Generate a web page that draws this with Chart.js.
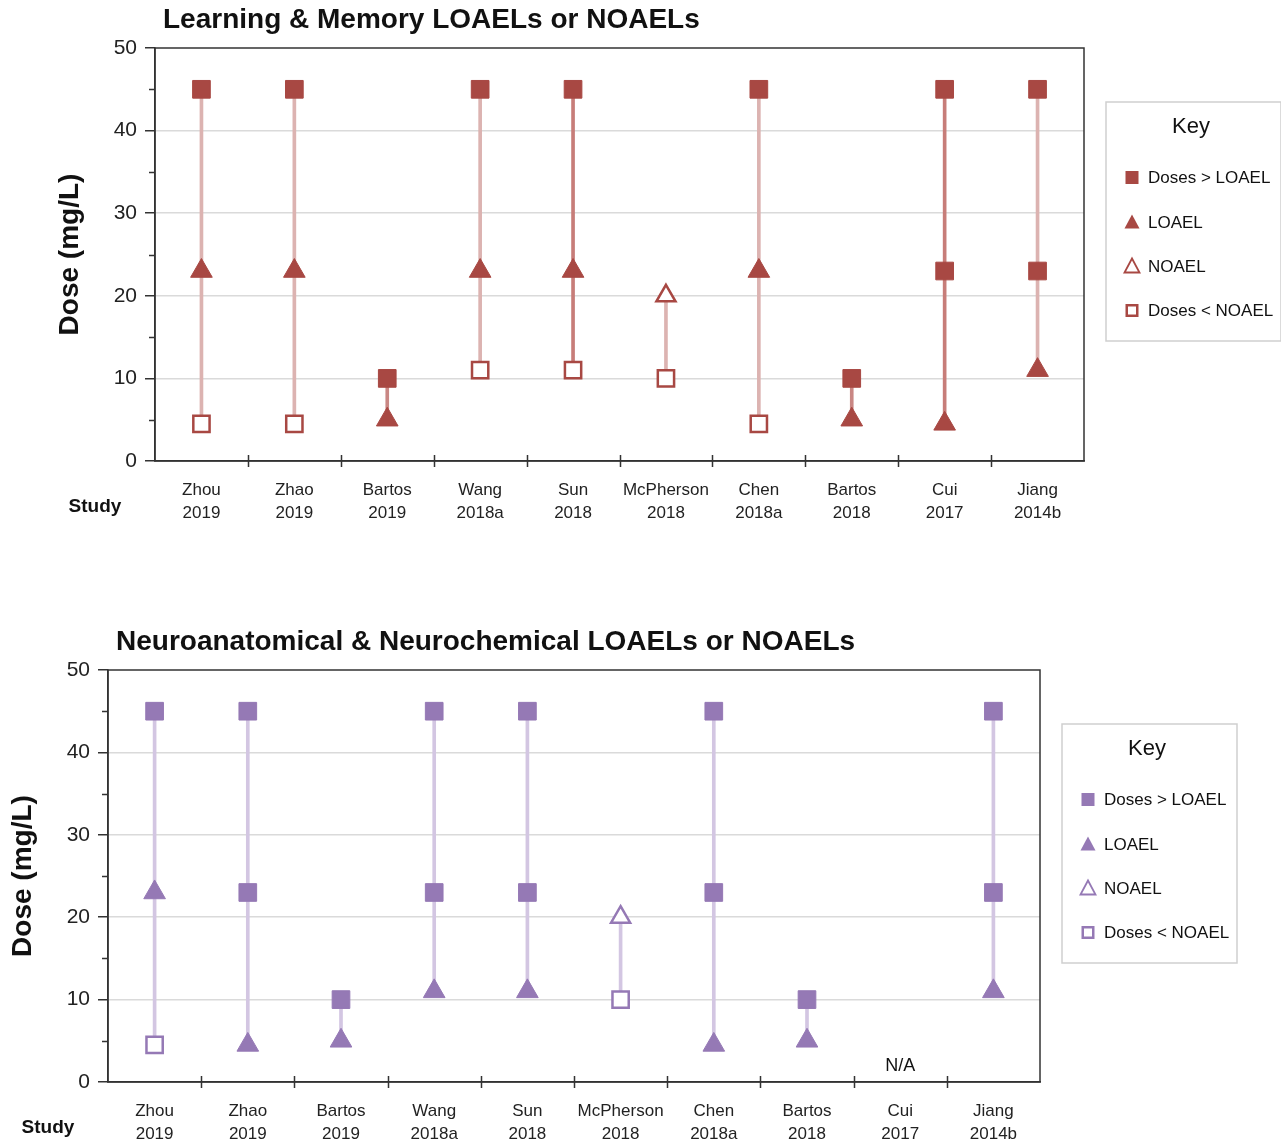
<!DOCTYPE html>
<html>
<head>
<meta charset="utf-8">
<script src="https://cdn.jsdelivr.net/npm/chart.js@4.4.1/dist/chart.umd.min.js"></script>
<style>
  html, body { margin: 0; padding: 0; background: #fff; }
  #wrap { position: relative; width: 1281px; height: 1147px; }
  .box { position: absolute; left: 0; width: 1281px; }
</style>
</head>
<body>
<div id="wrap">
  <div class="box" style="top:0;height:580px"><canvas id="chartLearning"></canvas></div>
  <div class="box" style="top:600px;height:547px"><canvas id="chartNeuro"></canvas></div>
</div>
<script>
// studies (x axis)
var studies = [
  ['Zhou', '2019'], ['Zhao', '2019'], ['Bartos', '2019'], ['Wang', '2018a'], ['Sun', '2018'],
  ['McPherson', '2018'], ['Chen', '2018a'], ['Bartos', '2018'], ['Cui', '2017'], ['Jiang', '2014b']
]
var yTicks = [0, 10, 20, 30, 40, 50]

// Learning & Memory (mg/L)
var lmAboveLoael  = [45, 45, 10, 45, 45, null, 45, 10, 45, 45]
var lmAboveLoael2 = [null, null, null, null, null, null, null, null, 23, 23]
var lmLoael       = [23, 23, 5, 23, 23, null, 23, 5, 4.5, 11]
var lmNoael       = [null, null, null, null, null, 20, null, null, null, null]
var lmBelowNoael  = [4.5, 4.5, null, 11, 11, 10, 4.5, null, null, null]

// Neuroanatomical & Neurochemical (mg/L)
var naAboveLoael  = [45, 45, 10, 45, 45, null, 45, 10, null, 45]
var naAboveLoael2 = [null, 23, null, 23, 23, null, 23, null, null, 23]
var naLoael       = [23, 4.5, 5, 11, 11, null, 4.5, 5, null, 11]
var naNoael       = [null, null, null, null, null, 20, null, null, null, null]
var naBelowNoael  = [4.5, null, null, null, null, 10, null, null, null, null]
var naNotes       = [null, null, null, null, null, null, null, null, 'N/A', null]

var legendLabels = ['Doses > LOAEL', 'LOAEL', 'NOAEL', 'Doses < NOAEL']

var FONT = '"Liberation Sans", Arial, sans-serif'

function span(series) {
  return studies.map(function (s, i) {
    var vals = series.map(function (arr) { return arr[i] }).filter(function (v) { return v != null })
    return vals.length > 1 ? [Math.min.apply(null, vals), Math.max.apply(null, vals)] : null
  })
}

var doseDecor = {
  id: 'doseDecor',
  afterDraw: function (chart, args, o) {
    var ctx = chart.ctx, a = chart.chartArea, x = chart.scales.x, y = chart.scales.y
    ctx.save()

    // frame
    ctx.strokeStyle = '#333'
    ctx.lineWidth = 1.5
    ctx.strokeRect(a.left, a.top, a.right - a.left, a.bottom - a.top)

    // minor y ticks
    ctx.beginPath()
    for (var v = 5; v < 50; v += 10) {
      var py = Math.round(y.getPixelForValue(v)) + 0.5
      ctx.moveTo(a.left - 6, py)
      ctx.lineTo(a.left, py)
    }
    // x ticks between studies
    var half = (x.getPixelForValue(1) - x.getPixelForValue(0)) / 2
    for (var i = 1; i < studies.length; i++) {
      var px = Math.round(x.getPixelForValue(i) - half) + 0.5
      ctx.moveTo(px, a.bottom - 6)
      ctx.lineTo(px, a.bottom + 6)
    }
    ctx.stroke()

    ctx.fillStyle = '#111'
    // title
    ctx.font = 'bold 28px ' + FONT
    ctx.textAlign = 'left'
    ctx.textBaseline = 'middle'
    ctx.fillText(o.title, a.left + 8, a.top - 28)

    // y title
    ctx.save()
    ctx.translate(a.left - 85, (a.top + a.bottom) / 2)
    ctx.rotate(-Math.PI / 2)
    ctx.textAlign = 'center'
    ctx.font = 'bold 28px ' + FONT
    ctx.fillText('Dose (mg/L)', 0, 0)
    ctx.restore()

    // "Study"
    ctx.font = 'bold 19px ' + FONT
    ctx.textAlign = 'center'
    ctx.fillText('Study', a.left - 60, a.bottom + 46)

    // notes such as N/A
    ctx.font = '18px ' + FONT
    ;(o.notes || []).forEach(function (n, i) {
      if (n) ctx.fillText(n, x.getPixelForValue(i), a.bottom - 16)
    })

    // key
    var bx = a.right + 22, by = a.top + 54, bw = 175, bh = 239
    ctx.fillStyle = '#fff'
    ctx.fillRect(bx, by, bw, bh)
    ctx.strokeStyle = '#cfcfcf'
    ctx.lineWidth = 1.5
    ctx.strokeRect(bx, by, bw, bh)
    ctx.fillStyle = '#111'
    ctx.textAlign = 'center'
    ctx.font = '22px ' + FONT
    ctx.fillText('Key', bx + 85, by + 25)
    ctx.font = '17px ' + FONT
    ctx.textAlign = 'left'
    var kinds = ['rect', 'tri', 'otri', 'orect']
    var rows = [75, 120, 164, 208]
    kinds.forEach(function (k, i) {
      var mx = bx + 26, my = by + rows[i]
      if (k == 'rect' || k == 'orect') {
        ctx.fillStyle = o.color
        ctx.fillRect(mx - 6.5, my - 6, 13, 13)
        if (k == 'orect') { ctx.fillStyle = '#fff'; ctx.fillRect(mx - 4, my - 3.5, 8, 8) }
      } else {
        ctx.beginPath()
        ctx.moveTo(mx, my - 7.5); ctx.lineTo(mx + 7.5, my + 6.5); ctx.lineTo(mx - 7.5, my + 6.5); ctx.closePath()
        if (k == 'tri') { ctx.fillStyle = o.color; ctx.fill() }
        else { ctx.strokeStyle = o.color; ctx.lineWidth = 1.8; ctx.stroke() }
      }
      ctx.fillStyle = '#111'
      ctx.fillText(legendLabels[i], bx + 42, my + 1)
    })
    ctx.restore()
  }
}

function pointSet(data, style, color, open) {
  return {
    type: 'line', data: data, showLine: false, order: 1,
    pointStyle: style,
    pointRadius: style == 'rect' ? (open ? 11.5 : 12.5) : (open ? 11 : 12.5),
    pointBackgroundColor: open ? '#fff' : color,
    pointBorderColor: color,
    pointBorderWidth: open ? 2.5 : 1
  }
}

function makeChart(id, cfg) {
  return new Chart(document.getElementById(id), {
    type: 'bar',
    data: {
      labels: studies,
      datasets: [
        { data: span(cfg.series), order: 10, barThickness: 3, backgroundColor: cfg.lineColors, borderWidth: 0 },
        pointSet(cfg.series[0], 'rect', cfg.color, false),
        pointSet(cfg.series[1], 'rect', cfg.color, false),
        pointSet(cfg.series[2], 'triangle', cfg.color, false),
        pointSet(cfg.series[3], 'triangle', cfg.color, true),
        pointSet(cfg.series[4], 'rect', cfg.color, true)
      ]
    },
    options: {
      responsive: true,
      maintainAspectRatio: false,
      animation: false,
      layout: { padding: cfg.padding },
      plugins: {
        legend: { display: false },
        tooltip: { enabled: false },
        doseDecor: { title: cfg.title, color: cfg.color, notes: cfg.notes }
      },
      scales: {
        x: {
          offset: true,
          afterFit: function (s) { s.height = cfg.xHeight },
          grid: { display: false },
          border: { color: '#333', width: 1.5 },
          ticks: { color: '#222', padding: 9, maxRotation: 0, autoSkip: false, font: { family: FONT, size: 17, lineHeight: 1.4 } }
        },
        y: {
          min: 0, max: 50,
          afterFit: function (s) { s.width = cfg.yWidth },
          afterBuildTicks: function (s) { s.ticks = yTicks.map(function (v) { return { value: v } }) },
          grid: {
            color: function (c) { return c.tick && (c.tick.value == 0 || c.tick.value == 50) ? 'rgba(0,0,0,0)' : '#dadada' },
            lineWidth: 1.5, tickColor: '#333', tickLength: 10
          },
          border: { color: '#333', width: 1.5 },
          ticks: { color: '#222', padding: 8, font: { family: FONT, size: 21 } }
        }
      }
    },
    plugins: [doseDecor]
  })
}

var learning = makeChart('chartLearning', {
  title: 'Learning & Memory LOAELs or NOAELs',
  color: '#a84843',
  series: [lmAboveLoael, lmAboveLoael2, lmLoael, lmNoael, lmBelowNoael],
  lineColors: ['#dcb3b1', '#dcb3b1', '#c98784', '#dcb3b1', '#c77d79', '#dcb3b1', '#dcb3b1', '#c98784', '#c77d79', '#dcb3b1'],
  padding: { left: 0, right: 197, top: 48, bottom: 49 },
  xHeight: 70, yWidth: 155
})

var neuro = makeChart('chartNeuro', {
  title: 'Neuroanatomical & Neurochemical LOAELs or NOAELs',
  color: '#9579b5',
  series: [naAboveLoael, naAboveLoael2, naLoael, naNoael, naBelowNoael],
  notes: naNotes,
  lineColors: '#d3c6e2',
  padding: { left: 0, right: 241, top: 70, bottom: 5 },
  xHeight: 60, yWidth: 108
})
</script>
</body>
</html>
